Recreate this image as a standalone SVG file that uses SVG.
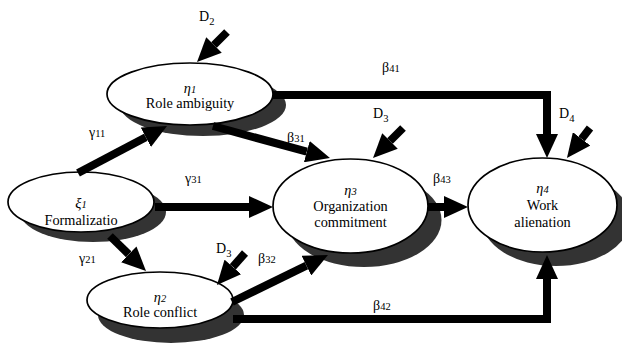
<svg xmlns="http://www.w3.org/2000/svg" width="622" height="349" viewBox="0 0 622 349">
<style>
.sh{fill:#333333;stroke:none}
.el{fill:#ffffff;stroke:#000000;stroke-width:1.7}
.t{font-family:'Liberation Serif',serif;font-size:14.3px;fill:#000;text-anchor:middle}
.gr{font-style:italic}
.lb{font-family:'Liberation Serif',serif;font-size:14px;fill:#000}
.sub{font-size:10.5px}
.c{fill:none;stroke:#000;stroke-width:8;marker-end:url(#ah)}
</style>
<defs>
<marker id="ah" viewBox="0 0 24 22" refX="0" refY="11" markerWidth="24" markerHeight="22" markerUnits="userSpaceOnUse" orient="auto">
<path d="M0,0 L24,11 L0,22 z" fill="#000"/>
</marker>
</defs>
<rect width="622" height="349" fill="#ffffff"/>

<g id="node-eta1" font-family="Liberation Serif, serif">
<ellipse class="sh" cx="203" cy="105" rx="83" ry="31"/>
<ellipse class="el" cx="190" cy="94" rx="83" ry="31"/>
<text class="t" x="190" y="93"><tspan class="gr">η</tspan><tspan class="gr sub">1</tspan></text>
<text class="t" x="190" y="108">Role ambiguity</text>
</g>

<g id="node-xi1" font-family="Liberation Serif, serif">
<ellipse class="sh" cx="93" cy="212" rx="73" ry="30"/>
<ellipse class="el" cx="81" cy="202" rx="73" ry="30"/>
<text class="t" x="81" y="208"><tspan class="gr">ξ</tspan><tspan class="gr sub">1</tspan></text>
<text class="t" x="81" y="225">Formalizatio</text>
</g>

<g id="node-eta2" font-family="Liberation Serif, serif">
<ellipse class="sh" cx="171" cy="315" rx="73" ry="28"/>
<ellipse class="el" cx="160" cy="300" rx="73" ry="28"/>
<text class="t" x="160" y="302"><tspan class="gr">η</tspan><tspan class="gr sub">2</tspan></text>
<text class="t" x="160" y="317">Role conflict</text>
</g>

<g id="node-eta3" font-family="Liberation Serif, serif">
<ellipse class="sh" cx="364" cy="220" rx="77.5" ry="47"/>
<ellipse class="el" cx="350.5" cy="206" rx="77.5" ry="47"/>
<text class="t" x="350.5" y="195"><tspan class="gr">η</tspan><tspan class="gr sub">3</tspan></text>
<text class="t" x="350.5" y="211">Organization</text>
<text class="t" x="350.5" y="227">commitment</text>
</g>

<g id="node-eta4" font-family="Liberation Serif, serif">
<ellipse class="sh" cx="556" cy="219" rx="74.5" ry="47"/>
<ellipse class="el" cx="542.5" cy="205" rx="74.5" ry="47"/>
<text class="t" x="542.5" y="193"><tspan class="gr">η</tspan><tspan class="gr sub">4</tspan></text>
<text class="t" x="542.5" y="210">Work</text>
<text class="t" x="542.5" y="227">alienation</text>
</g>

<g id="connectors">
<path class="c" d="M78,173 L145.8,137.2"/>
<path class="c" d="M213,126 L306.8,151.7"/>
<path class="c" d="M155,207 L249,207"/>
<path class="c" d="M110,236 L128.8,254.3"/>
<path class="c" d="M232,302 L306.4,265.6"/>
<path class="c" d="M233,319 H547 V279"/>
<path class="c" d="M273,95 H547 V134"/>
<path class="c" d="M428,207 L444,207"/>
<path class="c" d="M227,32 L214,45"/>
<path class="c" d="M403,128 L390,141"/>
<path class="c" d="M590,128 L581.6,138.9"/>
<path class="c" d="M245,253 L232.8,266.9"/>
</g>

<g id="labels" font-family="Liberation Serif, serif">
<text class="lb" x="199" y="21">D<tspan class="sub" dy="4">2</tspan></text>
<text class="lb" x="382" y="72">β<tspan class="sub">41</tspan></text>
<text class="lb" x="373" y="118">D<tspan class="sub" dy="4">3</tspan></text>
<text class="lb" x="559" y="118">D<tspan class="sub" dy="4">4</tspan></text>
<text class="lb" x="89" y="137">γ<tspan class="sub">11</tspan></text>
<text class="lb" x="287" y="142">β<tspan class="sub">31</tspan></text>
<text class="lb" x="185" y="183">γ<tspan class="sub">31</tspan></text>
<text class="lb" x="433" y="183">β<tspan class="sub">43</tspan></text>
<text class="lb" x="79" y="263">γ<tspan class="sub">21</tspan></text>
<text class="lb" x="216" y="253">D<tspan class="sub" dy="4">3</tspan></text>
<text class="lb" x="258" y="263">β<tspan class="sub">32</tspan></text>
<text class="lb" x="373" y="310">β<tspan class="sub">42</tspan></text>
</g>
</svg>
